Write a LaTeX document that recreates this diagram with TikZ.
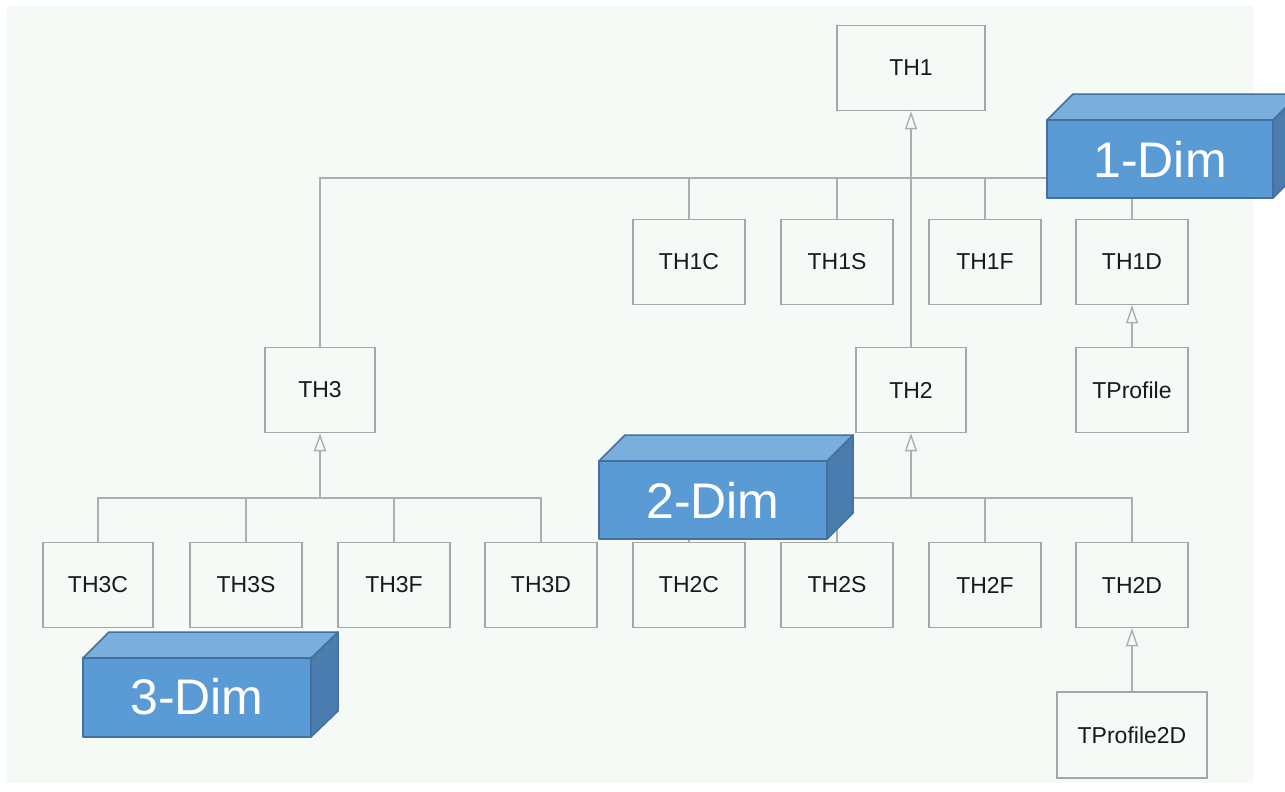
\documentclass[tikz,border=0pt]{standalone}
\usepackage{fontspec}
\setmainfont{Liberation Sans}
\usetikzlibrary{arrows.meta}
\definecolor{bgc}{HTML}{F5FAF7}
\definecolor{linec}{HTML}{AEAEAE}
\definecolor{boxc}{HTML}{A6A6A6}
\definecolor{frontc}{HTML}{5B9BD5}
\definecolor{topc}{HTML}{7AAEDD}
\definecolor{sidec}{HTML}{4A7DAD}
\definecolor{edgec}{HTML}{41719C}
\tikzset{
  cls/.style={draw=boxc, line width=1.5pt, fill=bgc, minimum width=112pt, minimum height=85pt,
    inner sep=0pt, font=\fontsize{23}{27}\selectfont, text=black!90},
  conn/.style={draw=linec, line width=1.5pt},
  inh/.style={conn, -{Triangle[open, length=18pt, width=12pt, line width=1.4pt]}},
  frontface/.style={fill=frontc, draw=edgec, line width=1.5pt, line join=round},
  topface/.style={fill=topc, draw=edgec, line width=1.5pt, line join=round},
  sideface/.style={fill=sidec, draw=edgec, line width=1.5pt, line join=round},
  dimlabel/.style={text=white, font=\fontsize{50}{60}\selectfont, inner sep=0pt}
}
\begin{document}
\begin{tikzpicture}[x=1pt,y=-1pt]
\useasboundingbox (0,0) rectangle (1285,792);
\fill[white] (0,0) rectangle (1285,792);
\fill[bgc] (7,6) rectangle (1253,783);
% nodes
\node[cls, minimum width=148pt] (TH1) at (911,68) {TH1};
\node[cls] (TH1C) at (689,262) {TH1C};
\node[cls] (TH1S) at (837,262) {TH1S};
\node[cls] (TH1F) at (985,262) {TH1F};
\node[cls] (TH1D) at (1132,262) {TH1D};
\node[cls] (TProfile) at (1132,390) {TProfile};
\node[cls, minimum width=110pt] (TH3) at (320,390) {TH3};
\node[cls, minimum width=110pt] (TH2) at (911,390) {TH2};
\node[cls, minimum width=110pt] (TH3C) at (98,585) {TH3C};
\node[cls] (TH3S) at (246,585) {TH3S};
\node[cls] (TH3F) at (394,585) {TH3F};
\node[cls] (TH3D) at (541,585) {TH3D};
\node[cls] (TH2C) at (689,585) {TH2C};
\node[cls] (TH2S) at (837,585) {TH2S};
\node[cls] (TH2F) at (985,585) {TH2F};
\node[cls] (TH2D) at (1132,585) {TH2D};
\node[cls, minimum width=150pt, minimum height=86pt] (TProfile2D) at (1132,735) {TProfile2D};
% bus coordinates
\coordinate (bus1) at (0,178);
\coordinate (bus3) at (0,498);
\coordinate (bus2) at (0,498);
% TH1 hierarchy
\draw[conn] (TH3.north) |- (TH1D.north |- bus1) -- (TH1D.north);
\draw[conn] (TH1C.north) -- (TH1C.north |- bus1);
\draw[conn] (TH1S.north) -- (TH1S.north |- bus1);
\draw[conn] (TH1F.north) -- (TH1F.north |- bus1);
\draw[inh] (TH2.north) -- (TH1.south);
% TH3 hierarchy
\draw[conn] (TH3C.north) |- (TH3D.north |- bus3) -- (TH3D.north);
\draw[conn] (TH3S.north) -- (TH3S.north |- bus3);
\draw[conn] (TH3F.north) -- (TH3F.north |- bus3);
\draw[inh] (TH3.south |- bus3) -- (TH3.south);
% TH2 hierarchy
\draw[conn] (TH2C.north) |- (TH2D.north |- bus2) -- (TH2D.north);
\draw[conn] (TH2S.north) -- (TH2S.north |- bus2);
\draw[conn] (TH2F.north) -- (TH2F.north |- bus2);
\draw[inh] (TH2.south |- bus2) -- (TH2.south);
% profiles
\draw[inh] (TProfile.north) -- (TH1D.south);
\draw[inh] (TProfile2D.north) -- (TH2D.south);
% 1-Dim cuboid
\draw[sideface] (1273,120) -- (1299,94) -- (1299,172) -- (1273,198) -- cycle;
\draw[topface] (1047,120) -- (1073,94) -- (1299,94) -- (1273,120) -- cycle;
\draw[frontface] (1047,120) rectangle (1273,198);
\node[dimlabel] (d1) at (1160,159) {1-Dim};
% 2-Dim cuboid
\draw[sideface] (827,461) -- (853,435) -- (853,513) -- (827,539) -- cycle;
\draw[topface] (599,461) -- (625,435) -- (853,435) -- (827,461) -- cycle;
\draw[frontface] (599,461) rectangle (827,539);
\node[dimlabel] (d2) at (713,500) {2-Dim};
% 3-Dim cuboid
\draw[sideface] (311,658) -- (338,632) -- (338,711) -- (311,737) -- cycle;
\draw[topface] (83,658) -- (109,632) -- (338,632) -- (311,658) -- cycle;
\draw[frontface] (83,658) rectangle (311,737);
\node[dimlabel] (d3) at (197,697) {3-Dim};
\end{tikzpicture}
\end{document}
